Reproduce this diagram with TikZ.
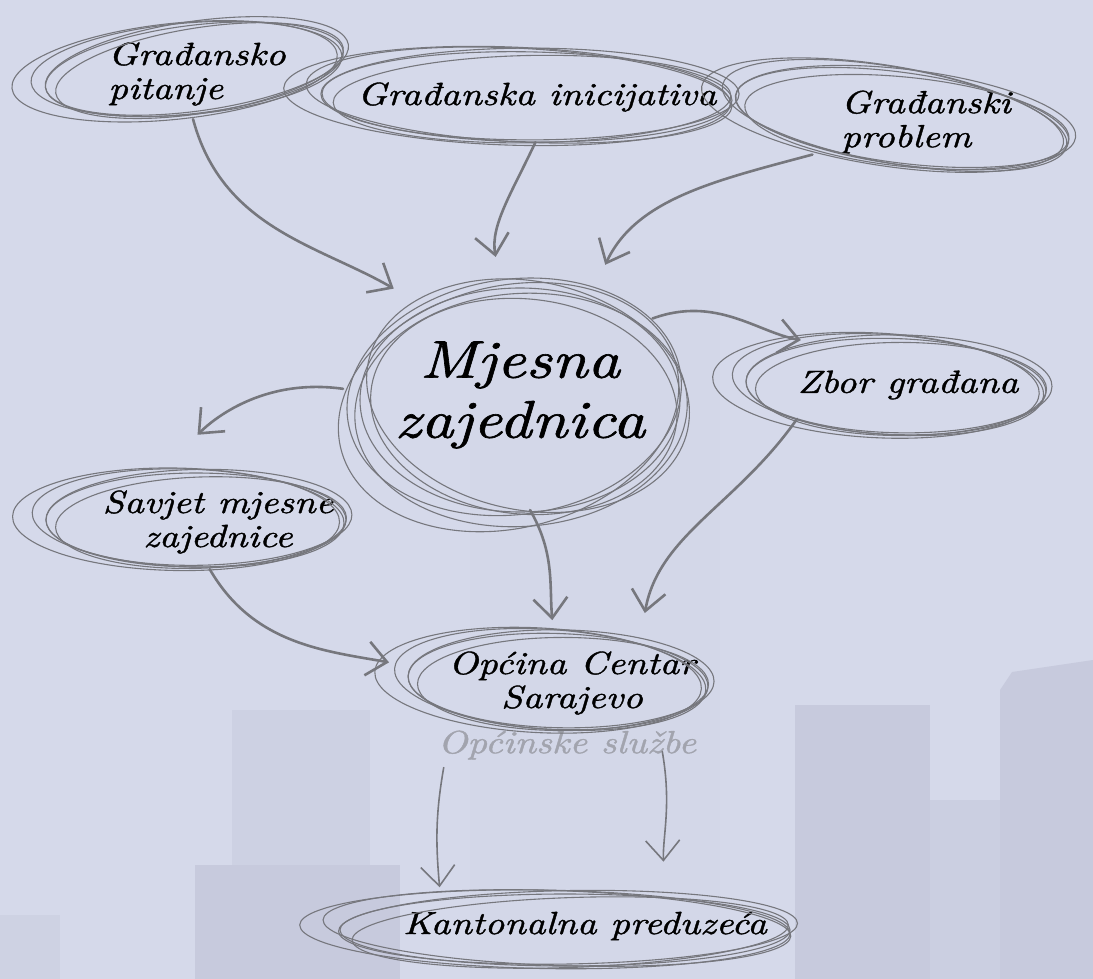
\documentclass[tikz,border=0pt]{standalone}
\usepackage{fontspec}
\usepackage{tikz}
\usetikzlibrary{shapes.geometric, arrows.meta, positioning, calc}

\newfontfamily\handfont{lmroman10-italic.otf}[FakeStretch=1.2, FakeBold=1.2]

\definecolor{bgblue}{HTML}{D5D9EA}
\definecolor{bldg}{HTML}{C7CADD}
\definecolor{pencil}{HTML}{76777D}
\definecolor{faint}{HTML}{A2A4AE}

\begin{document}
\begin{tikzpicture}[x=1pt, y=1pt,
    idea/.style={ellipse, inner sep=0pt, align=center, font=\fontsize{32}{34}\handfont},
    ring/.style={draw=pencil, line width=1.1pt},
    arrow/.style={-{Straight Barb[length=20pt, width=34pt]}, line width=2.6pt, draw=pencil, line cap=round}
]

% Background and skyline
\fill[bgblue] (0,0) rectangle (1093,-979);
\useasboundingbox (0,0) rectangle (1093,-979);
\fill[bldg!15!bgblue] (470,-250) rectangle (720,-979);
\fill[bldg!55!bgblue] (232,-710) rectangle (370,-865);
\fill[bldg] (195,-865) rectangle (400,-979);
\fill[bldg!50!bgblue] (0,-915) rectangle (60,-979);
\fill[bldg] (795,-705) rectangle (930,-979);
\fill[bldg!70!bgblue] (930,-800) rectangle (1000,-979);
\fill[bldg] (1000,-690) -- (1012,-672) -- (1093,-660) -- (1093,-979) -- (1000,-979) -- cycle;

% Citizens (top row)
\node[idea, align=left, minimum width=290, minimum height=90] (pit) at (197,-74) {Građansko\\pitanje};
\node[idea, minimum width=420, minimum height=90] (ini) at (537,-97) {Građanska inicijativa};
\node[idea, align=left, minimum width=320, minimum height=92] (prob) at (926,-122) {Građanski\\problem};

% Local community
\node[idea, font=\fontsize{53}{60}\handfont, minimum width=330, minimum height=230] (mz) at (520,-395) {Mjesna\\zajednica};
\node[idea, minimum width=300, minimum height=96] (zb) at (908,-385) {Zbor građana};
\node[idea, minimum width=300, minimum height=94] (sav) at (218,-522) {Savjet mjesne\\zajednice};

% Municipality and canton
\node[idea, minimum width=300, minimum height=96] (op) at (572,-683) {Općina Centar\\Sarajevo};
\node[font=\fontsize{32}{34}\handfont, text=faint, inner sep=0pt] (ops) at (567,-745) {Općinske službe};
\node[idea, minimum width=450, minimum height=74] (kan) at (585,-926) {Kantonalna preduzeća};

% Sketchy rings
\foreach \n/\rx/\ry/\t/\ox/\oy in {pit/150/44/7/-2/5, ini/205/45/-1/-10/0, prob/168/46/-8/-24/0,
    zb/150/48/-2/-12/-2, sav/150/47/0/-22/2, op/150/48/-2/-14/1, kan/225/36/0/-20/-4}
  \foreach \dx/\dy/\s/\r in {0/0/1/0, -8/1/1.04/-2, 5/-2/0.97/2, -20/0/1.09/-1, 3/3/1.02/1}
    \draw[ring, shift={(\n.center)}, rotate=\t+\r] (\ox+\dx,\oy+\dy) ellipse [x radius=\s*\rx, y radius=\s*\ry];
\foreach \dx/\dy/\s/\r in {0/0/1/0, -6/4/1.05/8, 5/-6/0.96/-6, -14/-4/1.08/14, 8/6/1.02/-12, 0/-10/1.04/4}
  \draw[ring, shift={(mz.center)}, rotate=\r] (\dx,\dy-5) ellipse [x radius=\s*160, y radius=\s*112];

% Arrows
\draw[arrow, shorten >=26pt] (pit.-95) to[out=-75, in=150] (mz.138);
\draw[arrow, shorten >=24pt] (ini.-92) to[out=-115, in=100] (mz.100);
\draw[arrow, shorten >=28pt] (prob.196) to[out=195, in=65] (mz.55);
\draw[arrow, shorten >=24pt] (mz.30) to[out=20, in=170] (zb.154);
\draw[arrow, shorten >=62pt] (mz.178) to[out=172, in=45] (sav.146);
\draw[arrow, shorten >=15pt] (mz.-85) to[out=-60, in=95] (op.111);
\draw[arrow, shorten >=26pt] (zb.197) to[out=-125, in=80] (op.33);
\draw[arrow, shorten >=20pt] (sav.-100) to[out=-60, in=170] (op.174);
\draw[arrow, line width=1.6pt, shorten >=8pt] ([xshift=6pt, yshift=-8pt]ops.south west) to[out=-100, in=95] (kan.168);
\draw[arrow, line width=1.6pt, shorten >=29pt] ([xshift=-34pt, yshift=8pt]ops.south east) to[out=-80, in=92] (kan.24);

\end{tikzpicture}
\end{document}
